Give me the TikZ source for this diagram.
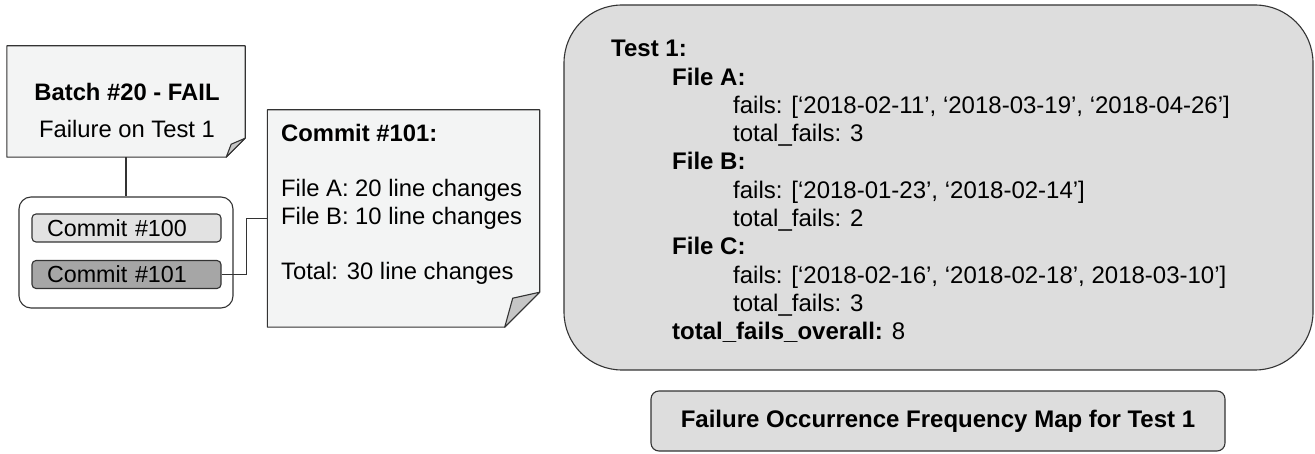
\documentclass[tikz,border=0pt]{standalone}
\usepackage{fontspec}
\setmainfont{Liberation Sans}
\usetikzlibrary{positioning}

\definecolor{edgegray}{HTML}{333333}
\definecolor{notefill}{HTML}{F3F4F4}
\definecolor{foldfill}{HTML}{C6C6C6}
\definecolor{mapfill}{HTML}{DDDDDD}
\definecolor{oldcommit}{HTML}{E2E2E2}
\definecolor{badcommit}{HTML}{A6A6A6}

\tikzset{
  notebox/.style={draw=edgegray, fill=notefill, line width=1.1pt, line join=round},
  foldbox/.style={draw=edgegray, fill=foldfill, line width=1.1pt, line join=round},
  frame/.style={rectangle, draw=none, inner sep=0pt},
  groupbox/.style={rectangle, draw=edgegray, fill=white, line width=1.1pt, rounded corners=12pt, inner sep=0pt},
  commitbox/.style={rectangle, draw=edgegray, line width=1.1pt, rounded corners=4pt,
    minimum width=189pt, minimum height=28pt, inner xsep=15pt, inner ysep=0pt,
    text width=159pt, align=left, font=\fontsize{23.3}{27}\selectfont},
  mapbox/.style={rectangle, draw=edgegray, fill=mapfill, line width=1.1pt, rounded corners=58pt, inner sep=0pt},
  captionbox/.style={rectangle, draw=edgegray, fill=mapfill, line width=1.1pt, rounded corners=8pt,
    inner sep=0pt, font=\fontsize{24}{28}\selectfont\bfseries},
  notetext/.style={inner sep=0pt, font=\fontsize{23.8}{28}\selectfont},
  maptext/.style={inner sep=0pt, align=left, font=\fontsize{24}{28.3}\selectfont},
  link/.style={draw=edgegray, line width=1.1pt}
}

\begin{document}
\begin{tikzpicture}[x=1pt, y=-1pt]
\useasboundingbox (0,0) rectangle (1315,454);

% batch note
\node[frame, minimum width=238pt, minimum height=111pt] (batch) at (126,101.5) {};
\draw[notebox] (batch.north west) -- (batch.north east) -- ([yshift=19pt]batch.south east)
  -- ([xshift=-19pt]batch.south east) -- (batch.south west) -- cycle;
\draw[foldbox] ([yshift=19pt]batch.south east) -- ([xshift=-19pt]batch.south east)
  -- ([xshift=-14pt,yshift=13pt]batch.south east) -- cycle;
\node[notetext, align=center] (batchtext) at (127,110.5) {\textbf{Batch \#20 - FAIL}\\[9pt]Failure on Test 1};

% commits of the batch
\node[groupbox, minimum width=214pt, minimum height=111pt] (group) at (126,252.5) {};
\node[commitbox, fill=oldcommit] (c100) at (126.5,228) {Commit \#100};
\node[commitbox, fill=badcommit] (c101) at (126.5,274.5) {Commit \#101};
\draw[link] (batch.south) -- (group.north);

% commit note
\node[frame, minimum width=272pt, minimum height=217pt] (cnote) at (403.5,218.5) {};
\draw[notebox] (cnote.north west) -- (cnote.north east) -- ([yshift=35pt]cnote.south east)
  -- ([xshift=-35pt]cnote.south east) -- (cnote.south west) -- cycle;
\draw[foldbox] ([yshift=35pt]cnote.south east) -- ([xshift=-35pt]cnote.south east)
  -- ([xshift=-27pt,yshift=29pt]cnote.south east) -- cycle;
\node[notetext, align=left, anchor=north west] (cnotetext) at (281,124)
  {\textbf{Commit \#101:}\\[27pt]File A: 20 line changes\\File B: 10 line changes\\[27pt]Total: 30 line changes};
\draw[link] (c101.east) -- ++(25,0) |- (cnote.west);

% frequency map
\node[mapbox, minimum width=749pt, minimum height=365pt] (freqmap) at (938.5,187.5) {};
\node[maptext, anchor=north west] (maplines) at (611,40) {%
\textbf{Test 1:}\\
\hspace*{61pt}\textbf{File A:}\\
\hspace*{122pt}fails: [`2018-02-11', `2018-03-19', `2018-04-26']\\
\hspace*{122pt}total\_fails: 3\\
\hspace*{61pt}\textbf{File B:}\\
\hspace*{122pt}fails: [`2018-01-23', `2018-02-14']\\
\hspace*{122pt}total\_fails: 2\\
\hspace*{61pt}\textbf{File C:}\\
\hspace*{122pt}fails: [`2018-02-16', `2018-02-18', 2018-03-10']\\
\hspace*{122pt}total\_fails: 3\\
\hspace*{61pt}\textbf{total\_fails\_overall:} 8};

\node[captionbox, minimum width=574pt, minimum height=60pt] (caption) at (938,421) {Failure Occurrence Frequency Map for Test 1};
\end{tikzpicture}
\end{document}
